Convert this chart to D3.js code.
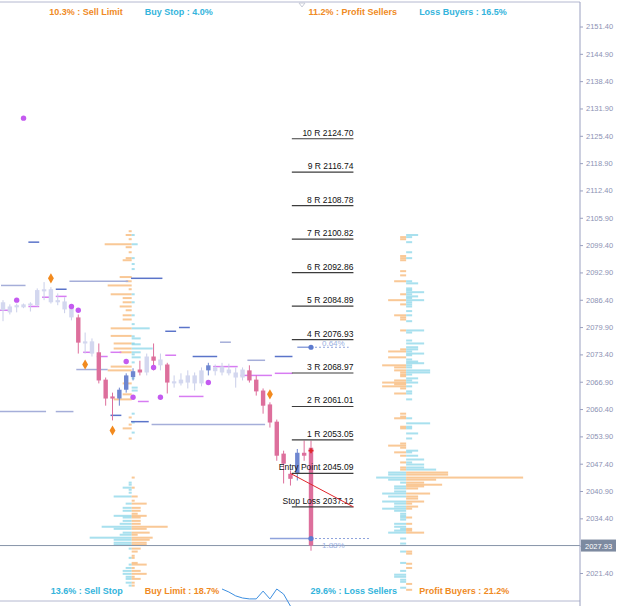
<!DOCTYPE html>
<html>
<head>
<meta charset="utf-8">
<script src="https://cdn.jsdelivr.net/npm/d3@7"></script>
<style>
  body { margin: 0; background: #fff; }
  svg { display: block; }
</style>
</head>
<body>
<div id="chart"></div>
<script>
// CANDLES  [open, high, low, close, kind]  l = neutral, p = bear, b = bull
const candles = [
  [2083.9, 2086.3, 2081.3, 2085.8, "l"], [2083.4, 2085.3, 2082.9, 2084.8, "l"],
  [2084.6, 2085.5, 2083.4, 2085.1, "l"], [2084.6, 2085.5, 2084.4, 2085.3, "l"],
  [2085.1, 2085.8, 2083.6, 2085.5, "l"], [2085.1, 2089.1, 2084.8, 2088.7, "l"],
  [2088.4, 2090.6, 2086.3, 2088.9, "l"], [2085.8, 2089.4, 2085.5, 2088.9, "l"],
  [2085.8, 2087.9, 2085.1, 2086.3, "l"], [2086.0, 2087.0, 2083.2, 2084.1, "l"],
  [2084.6, 2085.1, 2081.5, 2082.2, "l"], [2082.2, 2082.9, 2073.6, 2076.2, "p"],
  [2076.5, 2078.6, 2073.6, 2076.0, "l"], [2076.5, 2077.2, 2072.9, 2073.6, "l"],
  [2073.9, 2076.0, 2066.5, 2067.2, "p"], [2067.4, 2067.9, 2061.2, 2062.9, "p"],
  [2063.4, 2064.3, 2057.7, 2062.9, "p"], [2062.9, 2065.5, 2061.2, 2065.0, "b"],
  [2065.0, 2068.9, 2064.3, 2068.4, "b"], [2068.0, 2070.1, 2067.2, 2069.4, "b"],
  [2069.8, 2071.9, 2068.4, 2069.1, "p"], [2069.1, 2073.6, 2068.4, 2072.9, "l"],
  [2072.9, 2076.0, 2069.6, 2071.9, "p"], [2070.8, 2073.6, 2069.6, 2072.2, "l"],
  [2071.0, 2071.4, 2064.1, 2066.7, "p"], [2066.5, 2068.4, 2065.5, 2067.0, "l"],
  [2066.5, 2068.9, 2066.0, 2067.4, "l"], [2066.7, 2069.6, 2065.3, 2068.4, "l"],
  [2066.5, 2069.1, 2064.8, 2068.4, "l"], [2066.5, 2070.3, 2065.8, 2069.6, "l"],
  [2069.6, 2071.4, 2068.4, 2070.8, "b"], [2069.4, 2071.0, 2068.4, 2070.3, "l"],
  [2069.1, 2071.4, 2068.4, 2070.5, "l"], [2068.9, 2071.2, 2068.4, 2069.8, "l"],
  [2067.9, 2070.3, 2065.5, 2069.1, "l"], [2067.9, 2070.3, 2067.2, 2069.8, "l"],
  [2069.6, 2070.8, 2066.7, 2067.2, "p"], [2067.4, 2068.4, 2063.6, 2064.6, "p"],
  [2064.8, 2065.3, 2059.3, 2061.2, "p"], [2061.5, 2062.0, 2056.0, 2057.2, "p"],
  [2057.4, 2057.9, 2048.1, 2049.3, "p"], [2049.8, 2050.5, 2042.7, 2047.4, "p"],
  [2045.0, 2045.8, 2042.2, 2043.8, "p"], [2045.0, 2050.9, 2043.4, 2050.0, "b"],
  [2050.0, 2052.9, 2048.1, 2049.3, "p"], [2051.2, 2052.9, 2026.7, 2027.93, "p"]
];
const lastPrice = 2027.93;

// axis
const yTicks = [2021.40, 2027.90, 2034.40, 2040.90, 2047.40, 2053.90, 2060.40, 2066.90,
  2073.40, 2079.90, 2086.40, 2092.90, 2099.40, 2105.90, 2112.40, 2118.90, 2125.40,
  2131.90, 2138.40, 2144.90, 2151.40];

// R ladder
const levelNames = ["10 R", "9 R", "8 R", "7 R", "6 R", "5 R", "4 R", "3 R", "2 R", "1 R",
  "Entry Point", "Stop Loss"];
const levelPrices = [2124.70, 2116.74, 2108.78, 2100.82, 2092.86, 2084.89, 2076.93,
  2068.97, 2061.01, 2053.05, 2045.09, 2037.12];

// percentage markers
const pctLabels = ["0.64%", "1.88%"];
const pctPrices = [2075.1, 2029.6];
const pctFrom = [43, 39];
const pctTo = [50.5, 53.6];

// pivots  [candle index, price]
const purpleDots = [[3, 2129.6], [2, 2086.3], [10, 2084.8], [11, 2083.9], [18, 2071.7],
  [22, 2070.3], [30, 2066.7], [19, 2063.2], [23, 2063.2]];
const orangeDiamonds = [[7, 2091.5], [12, 2071.0], [16, 2055.3], [39, 2063.9]];
// [from index, to index, price, kind]
const levelSegs = [
  [4, 5, 2100.1, "b"], [0, 3, 2089.8, "g"], [-0.4, 1, 2083.9, "p"], [4, 5, 2084.8, "p"],
  [6, 7, 2087.0, "p"], [8, 9, 2088.9, "b"], [8, 9, 2087.2, "p"], [10, 18, 2090.8, "g"],
  [19, 23, 2091.5, "b"], [12, 13, 2073.9, "p"], [14, 15, 2072.9, "p"], [16, 17, 2073.9, "p"],
  [11, 15, 2069.8, "g"], [20, 21, 2062.2, "p"], [16, 17, 2058.9, "b"], [-0.4, 6, 2059.8, "g"],
  [8, 10, 2059.8, "g"], [19, 21, 2057.4, "b"], [22, 38, 2056.7, "g"], [24, 25, 2078.9, "b"],
  [26, 27, 2079.8, "b"], [24, 25, 2073.2, "p"], [28, 31, 2072.9, "b"], [26, 29, 2063.4, "p"],
  [32, 33, 2076.3, "g"], [31, 34, 2070.5, "p"], [36, 38, 2072.0, "g"], [35, 39, 2068.4, "p"],
  [40, 42, 2072.9, "b"], [40, 42, 2068.9, "p"]
];

// order book profile (left)  [price, volume]
const sellLimit = [[2102.7, 1], [2101.8, 2], [2100.8, 1], [2099.6, 9], [2098.9, 2], [2097.7, 1],
  [2096.3, 2], [2095.8, 3], [2091.8, 4], [2090.8, 2], [2089.8, 8], [2088.9, 1], [2087.7, 7],
  [2086.8, 3], [2085.8, 3], [2084.8, 4], [2083.9, 2], [2082.7, 3], [2081.7, 3], [2079.6, 7],
  [2077.8, 7], [2076.0, 6], [2074.8, 6], [2073.9, 4], [2070.5, 7], [2069.6, 8], [2066.5, 3],
  [2063.9, 3], [2062.7, 6], [2058.4, 1], [2056.7, 1], [2055.8, 3], [2053.4, 1]];
const buyStop = [[2101.8, 1], [2099.6, 2], [2096.3, 1], [2094.9, 1], [2093.7, 1], [2087.7, 1],
  [2085.8, 1], [2082.7, 1], [2080.6, 1], [2079.6, 6], [2077.7, 1], [2077.2, 3], [2076.0, 1],
  [2075.8, 3], [2074.8, 7], [2073.9, 3], [2073.4, 1], [2072.7, 3], [2071.5, 1], [2068.6, 1],
  [2067.7, 1], [2065.5, 2], [2064.8, 2], [2059.3, 1], [2057.2, 1], [2054.8, 1]];
const sellStop = [[2042.9, 1], [2042.4, 1], [2041.7, 3], [2041.2, 1], [2040.5, 1], [2039.6, 6],
  [2037.9, 2], [2036.9, 3], [2036.2, 3], [2035.0, 6], [2034.6, 3], [2033.8, 3], [2033.1, 4],
  [2032.4, 10], [2031.9, 6], [2031.0, 3], [2030.5, 4], [2029.8, 14], [2029.3, 6], [2028.6, 6],
  [2028.1, 6], [2027.2, 1], [2025.0, 1], [2023.4, 1], [2022.6, 2], [2021.9, 3], [2021.2, 3],
  [2020.5, 2], [2020.0, 2], [2019.1, 2], [2018.4, 1]];
const buyLimit = [[2044.1, 1], [2041.7, 1], [2039.6, 2], [2038.6, 1], [2037.9, 5], [2036.9, 3],
  [2036.2, 3], [2035.5, 2], [2035.0, 5], [2034.6, 3], [2033.8, 3], [2033.1, 3], [2032.4, 12],
  [2031.9, 5], [2031.0, 6], [2030.5, 2], [2029.8, 7], [2029.3, 6], [2028.6, 5], [2028.1, 5],
  [2027.2, 3], [2026.5, 2], [2025.5, 1], [2025.0, 1], [2023.8, 2], [2023.4, 5], [2022.6, 1],
  [2021.9, 3], [2021.2, 5], [2020.5, 1], [2020.0, 3], [2019.1, 1], [2018.4, 1]];

// position profile (right)
const profitSellers = [[2101.3, 2], [2100.8, 2], [2096.8, 2], [2096.3, 2], [2095.8, 2],
  [2093.2, 2], [2092.2, 2], [2090.8, 4], [2087.7, 2], [2086.3, 6], [2085.3, 2], [2082.7, 4],
  [2082.2, 2], [2081.7, 2], [2079.1, 2], [2074.6, 2], [2074.1, 6], [2072.7, 6], [2070.8, 8],
  [2070.3, 4], [2069.6, 4], [2069.1, 2], [2068.6, 2], [2068.2, 2], [2067.2, 4], [2066.7, 8],
  [2066.3, 4], [2065.8, 8], [2065.3, 2], [2064.1, 4], [2059.3, 2], [2058.6, 2], [2058.2, 4],
  [2056.2, 2], [2055.8, 2], [2052.2, 2], [2051.7, 6], [2051.2, 2], [2050.1, 4], [2049.3, 2],
  [2047.7, 2], [2046.5, 2], [2046.0, 2]];
const lossBuyers = [[2101.8, 4], [2101.3, 2], [2100.1, 2], [2097.7, 2], [2096.3, 2], [2090.8, 2],
  [2090.3, 4], [2089.1, 2], [2088.7, 2], [2088.2, 6], [2087.7, 2], [2087.2, 4], [2086.8, 2],
  [2086.3, 6], [2085.8, 2], [2085.3, 2], [2084.8, 2], [2083.7, 2], [2082.7, 2], [2081.3, 2],
  [2079.1, 6], [2078.6, 2], [2076.7, 2], [2076.0, 6], [2075.1, 4], [2074.6, 4], [2074.1, 2],
  [2073.6, 6], [2073.2, 2], [2072.2, 2], [2071.7, 4], [2071.3, 6], [2070.8, 2], [2070.3, 2],
  [2069.6, 8], [2069.1, 8], [2068.6, 2], [2067.7, 4], [2067.2, 2], [2066.7, 4], [2065.8, 2],
  [2064.6, 2], [2064.1, 2], [2062.7, 2], [2058.2, 2], [2057.0, 8], [2056.2, 2], [2055.8, 2],
  [2054.6, 4], [2053.4, 2], [2050.5, 4], [2050.1, 2], [2049.3, 4], [2048.4, 6], [2047.7, 2],
  [2047.2, 6], [2046.5, 6], [2046.0, 10]];
const lossSellers = [[2045.3, 6], [2044.8, 6], [2044.1, 10], [2043.6, 6], [2042.9, 2], [2042.0, 4],
  [2041.5, 4], [2040.8, 4], [2040.3, 8], [2039.6, 6], [2038.4, 8], [2037.9, 4], [2037.2, 4],
  [2036.7, 8], [2036.2, 4], [2035.5, 2], [2035.0, 2], [2034.6, 2], [2034.1, 2], [2033.1, 4],
  [2032.4, 4], [2031.9, 2], [2031.5, 4], [2031.0, 6], [2029.6, 2], [2028.4, 2], [2026.5, 2],
  [2023.8, 2], [2021.9, 2], [2021.0, 4], [2020.5, 4], [2019.8, 2], [2019.3, 2], [2017.9, 2]];
const profitBuyers = [[2045.3, 14], [2044.8, 14], [2044.1, 39], [2043.6, 10], [2042.9, 6],
  [2042.4, 12], [2042.0, 6], [2041.5, 4], [2040.3, 8], [2039.6, 4], [2039.1, 4], [2038.4, 6],
  [2037.9, 2], [2037.2, 4], [2036.7, 2], [2034.6, 2], [2033.1, 2], [2031.9, 2], [2031.5, 2],
  [2031.0, 6], [2026.5, 2], [2026.0, 2], [2023.6, 2], [2022.6, 2], [2018.8, 2], [2017.4, 2]];

// profile titles
const topLabels = ["10.3% : Sell Limit", "Buy Stop : 4.0%", "11.2% : Profit Sellers", "Loss Buyers : 16.5%"];
const bottomLabels = ["13.6% : Sell Stop", "Buy Limit : 18.7%", "29.6% : Loss Sellers", "Profit Buyers : 21.2%"];

// lower indicator line [candle index, value]
const indicator = [[32, 70], [33, 60], [34, 47], [35, 40], [36, 37], [37, 37], [38, 63],
  [39, 37], [40, 70], [41, 53], [42, 13]];


//SVG
const W = 625, H = 606;
const plotRight = 580, plotTop = 2, plotBottom = 601;

const svg = d3.select("#chart")
  .append("svg")
  .attr("width", W)
  .attr("height", H)
  .style("font-family", "'Liberation Sans', Arial, sans-serif");

// SCALES
const xs = d3.scaleLinear().domain([0, 45]).range([3, 311]);
const ys = d3.scaleLinear().domain([2021.4, 2151.4]).range([573, 26.5]);
const vs = d3.scaleLinear().domain([0, 40]).range([0, 120]);
const is = d3.scaleLinear().domain([0, 100]).range([610, 580]);

const C = {
  orange: "#f08a24", cyan: "#33b4dc",
  barOrange: "#f6b36e", barBlue: "#86d4e8",
  l: "#d3d7ef", p: "#dd6f9c", b: "#6e86d0",
  segb: "#5b74c9", segp: "#d77cf2", segg: "#a5aed9"
};

// FRAME
svg.append("line").attr("x1", 0).attr("x2", plotRight).attr("y1", plotTop).attr("y2", plotTop)
  .attr("stroke", "#b4b8d0");
svg.append("line").attr("x1", 0).attr("x2", plotRight).attr("y1", plotBottom).attr("y2", plotBottom)
  .attr("stroke", "#b4b8d0");
svg.append("path").attr("d", "M299,3 L305,3 L302,7 Z").attr("fill", "none").attr("stroke", "#c8ccd8");

// VOLUME PROFILES
function profile(data, cx, side, color) {
  svg.append("g").selectAll("rect")
    .data(data)
    .enter()
    .append("rect")
    .attr("x", d => side < 0 ? cx - vs(d[1]) : cx)
    .attr("y", d => ys(d[0]) - 1)
    .attr("width", d => vs(d[1]))
    .attr("height", 2)
    .attr("fill", color)
    .attr("opacity", 0.72);
}
const leftCx = xs(18.8), rightCx = xs(58.9);
profile(sellLimit, leftCx, -1, C.barOrange);
profile(buyStop, leftCx, 1, C.barBlue);
profile(sellStop, leftCx, -1, C.barBlue);
profile(buyLimit, leftCx, 1, C.barOrange);
profile(profitSellers, rightCx, -1, C.barOrange);
profile(lossBuyers, rightCx, 1, C.barBlue);
profile(lossSellers, rightCx, -1, C.barBlue);
profile(profitBuyers, rightCx, 1, C.barOrange);

// PIVOT SEGMENTS
svg.append("g").selectAll("line")
  .data(levelSegs)
  .enter()
  .append("line")
  .attr("x1", d => xs(d[0]) - 2)
  .attr("x2", d => xs(d[1]) + 2)
  .attr("y1", d => ys(d[2]))
  .attr("y2", d => ys(d[2]))
  .attr("stroke", d => C["seg" + d[3]])
  .attr("stroke-width", 1.5);

// CURRENT PRICE LINE
svg.append("line")
  .attr("x1", 0).attr("x2", plotRight)
  .attr("y1", ys(lastPrice)).attr("y2", ys(lastPrice))
  .attr("stroke", "#8794a8");

// CANDLES
const cg = svg.append("g");
cg.selectAll("line")
  .data(candles)
  .enter()
  .append("line")
  .attr("x1", (d, i) => xs(i)).attr("x2", (d, i) => xs(i))
  .attr("y1", d => ys(d[1])).attr("y2", d => ys(d[2]))
  .attr("stroke", d => d[4] === "l" ? "#c9cee9" : C[d[4]])
  .attr("stroke-width", 1);
cg.selectAll("rect")
  .data(candles)
  .enter()
  .append("rect")
  .attr("x", (d, i) => xs(i) - 2.2)
  .attr("width", 4.4)
  .attr("y", d => ys(Math.max(d[0], d[3])))
  .attr("height", d => Math.max(1.5, Math.abs(ys(d[0]) - ys(d[3]))))
  .attr("fill", d => C[d[4]]);

// DOTS & DIAMONDS
svg.append("g").selectAll("circle")
  .data(purpleDots)
  .enter()
  .append("circle")
  .attr("cx", d => xs(d[0]))
  .attr("cy", d => ys(d[1]))
  .attr("r", 2.7)
  .attr("fill", "#c45af0");
svg.append("g").selectAll("path")
  .data(orangeDiamonds)
  .enter()
  .append("path")
  .attr("d", d3.symbol(d3.symbolDiamond, 30))
  .attr("transform", d => `translate(${xs(d[0])},${ys(d[1])})`)
  .attr("fill", "#f28a1e");

// R LADDER
const lx1 = xs(42.2), lx2 = xs(51.2);
const ladder = svg.append("g");
ladder.selectAll("line")
  .data(levelPrices)
  .enter()
  .append("line")
  .attr("x1", lx1).attr("x2", lx2)
  .attr("y1", d => ys(d)).attr("y2", d => ys(d))
  .attr("stroke", "#3c3c3c")
  .attr("stroke-width", 1.2);
ladder.selectAll("text")
  .data(levelPrices)
  .enter()
  .append("text")
  .attr("x", lx2)
  .attr("y", d => ys(d) - 3)
  .attr("text-anchor", "end")
  .style("font-size", "8.5px")
  .style("fill", "#111")
  .text((d, i) => `${levelNames[i]} ${d.toFixed(2)}`);

// entry -> stop line
svg.append("line")
  .attr("x1", xs(42)).attr("y1", ys(levelPrices[10]))
  .attr("x2", lx2).attr("y2", ys(levelPrices[11]))
  .attr("stroke", "#e0262b");
svg.append("path")
  .attr("d", d3.symbol(d3.symbolCross, 14))
  .attr("transform", `translate(${xs(45)},${ys(2050.5)})`)
  .attr("fill", "#e0262b");

// PERCENT MARKERS
pctPrices.forEach((p, i) => {
  const y = ys(p);
  svg.append("line").attr("x1", xs(pctFrom[i])).attr("x2", xs(45))
    .attr("y1", y).attr("y2", y).attr("stroke", "#8ea2dc").attr("stroke-width", 1.5);
  svg.append("line").attr("x1", xs(45)).attr("x2", xs(pctTo[i]))
    .attr("y1", y).attr("y2", y).attr("stroke", "#8ea2dc").attr("stroke-dasharray", "2,2");
  svg.append("circle").attr("cx", xs(45)).attr("cy", y).attr("r", 2.6).attr("fill", "#5d7bcf");
  svg.append("text")
    .attr("x", xs(45) + 11)
    .attr("y", i === 0 ? y - 1.5 : y + 9)
    .style("font-size", "8px")
    .style("fill", "#9ab0e2")
    .text(pctLabels[i]);
});

// INDICATOR
svg.append("path")
  .datum(indicator)
  .attr("d", d3.line().x(d => xs(d[0])).y(d => is(d[1])))
  .attr("fill", "none")
  .attr("stroke", "#3d8fe0")
  .attr("stroke-width", 1);

// PROFILE TITLES
function title(txt, x, y, anchor, color) {
  const t = svg.append("text")
    .attr("x", x).attr("y", y)
    .attr("text-anchor", anchor)
    .style("font-size", "9px")
    .style("font-weight", "bold")
    .style("fill", color)
    .text(txt);
  const b = t.node().getBBox();
  svg.insert("rect", () => t.node())
    .attr("x", b.x - 2).attr("y", b.y - 1)
    .attr("width", b.width + 4).attr("height", b.height + 2)
    .attr("fill", "#fff").attr("opacity", 0.85);
}
[[leftCx, 0], [rightCx, 2]].forEach(([cx, k]) => {
  title(topLabels[k], cx - 9, 15, "end", C.orange);
  title(topLabels[k + 1], cx + 13, 15, "start", C.cyan);
});
title(bottomLabels[0], leftCx - 9, 594, "end", C.cyan);
title(bottomLabels[1], leftCx + 13, 594, "start", C.orange);
title(bottomLabels[2], rightCx - 9, 594, "end", C.cyan);
title(bottomLabels[3], rightCx + 13, 594, "start", C.orange);

// AXIS
const axis = svg.append("g")
  .attr("transform", `translate(${plotRight},0)`)
  .call(d3.axisRight(ys).tickValues(yTicks).tickSize(3).tickPadding(3).tickFormat(d3.format(".2f")));
axis.select(".domain").remove();
axis.selectAll("line").attr("stroke", "#9aa0c0");
axis.selectAll("text").style("font-size", "7.5px").style("fill", "#8c92b4")
  .style("font-family", "'Liberation Sans', Arial, sans-serif");
svg.append("line").attr("x1", plotRight).attr("x2", plotRight).attr("y1", plotTop).attr("y2", H)
  .attr("stroke", "#9aa0c0");

// last price tag
svg.append("rect")
  .attr("x", plotRight + 1).attr("y", ys(lastPrice) - 6)
  .attr("width", 35).attr("height", 12)
  .attr("fill", "#7d8aa0");
svg.append("text")
  .attr("x", plotRight + 5).attr("y", ys(lastPrice) + 3)
  .style("font-size", "7.5px").style("fill", "#fff")
  .text(lastPrice.toFixed(2));

// lower pane scale peek
svg.append("text")
  .attr("x", plotRight + 8).attr("y", 611)
  .style("font-size", "7.5px").style("fill", "#8c92b4")
  .text("11.149");
</script>
</body>
</html>
